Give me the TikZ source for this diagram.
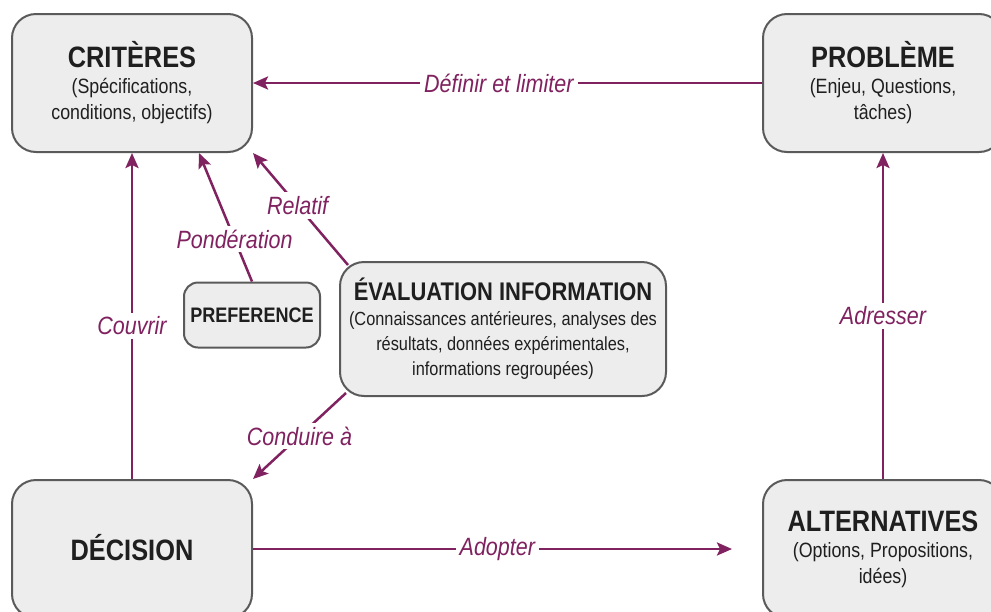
\documentclass[tikz,border=0pt]{standalone}
\usepackage{fontspec}
\setmainfont{Liberation Sans}[FakeStretch=0.86]
\usetikzlibrary{arrows.meta}
\definecolor{plum}{RGB}{128,34,96}
\definecolor{boxgray}{RGB}{237,237,237}
\definecolor{framegray}{RGB}{90,90,90}
\newcommand{\boxtitle}[1]{{\fontsize{29.5}{32}\selectfont\bfseries #1}\\[0pt]}

\begin{document}
\begin{tikzpicture}[
    x=1pt, y=-1pt,
    box/.style={draw=framegray, line width=2pt, fill=boxgray, rounded corners=24pt,
        minimum width=240pt, minimum height=138pt, align=center, text=black!88,
        font=\fontsize{20.7}{26}\selectfont},
    smallbox/.style={box, rounded corners=14pt, minimum width=136pt, minimum height=65pt},
    link/.style={plum, line width=2.5pt, -{Stealth[length=15pt,width=13pt,inset=3pt]}},
    tag/.style={fill=white, text=plum, inner sep=4pt, font=\fontsize{25}{28}\selectfont\itshape}
]
\useasboundingbox (0,0) rectangle (991,611);

\node[box] (crit) at (132,83) {\boxtitle{CRITÈRES}(Spécifications,\\conditions, objectifs)};
\node[box] (prob) at (883,83) {\boxtitle{PROBLÈME}(Enjeu, Questions,\\tâches)};
\node[box] (deci) at (132,549) {\raisebox{3pt}{\fontsize{29.5}{32}\selectfont\bfseries DÉCISION}};
\node[box] (alt) at (883,549) {\boxtitle{ALTERNATIVES}(Options, Propositions,\\idées)};
\node[smallbox] (pref) at (252,315) {{\fontsize{21}{24}\selectfont\bfseries PREFERENCE}};
\node[box, minimum width=326pt, minimum height=134pt, font=\fontsize{19}{25}\selectfont] (eval) at (503,329)
    {{\fontsize{25.5}{29}\selectfont\bfseries ÉVALUATION INFORMATION}\\(Connaissances antérieures, analyses des\\résultats, données expérimentales,\\informations regroupées)};

% points where the slanted links meet the boxes
\coordinate (critp) at ([xshift=67pt]crit.south);
\coordinate (ev1) at ([xshift=9pt,yshift=-4pt]eval.north west);
\coordinate (ev2) at ([xshift=7pt,yshift=4pt]eval.south west);

\draw[link] (prob.west) -- node[tag, pos=0.517] {Définir et limiter} (crit.east);
\draw[link] (alt.north) -- node[tag] {Adresser} (prob.south);
\draw[link] (deci.north) -- node[tag, pos=0.47] {Couvrir} (crit.south);
\draw[link, shorten >=30pt] (deci.east) -- node[tag, pos=0.48] {Adopter} (alt.west);
\draw[link] (pref.north) -- node[tag, pos=0.33] {Pondération} (critp);
\draw[link] (ev1) -- node[tag, pos=0.53] {Relatif} (crit.south east);
\draw[link] (ev2) -- node[tag, pos=0.5] {Conduire à} (deci.north east);

\end{tikzpicture}
\end{document}
